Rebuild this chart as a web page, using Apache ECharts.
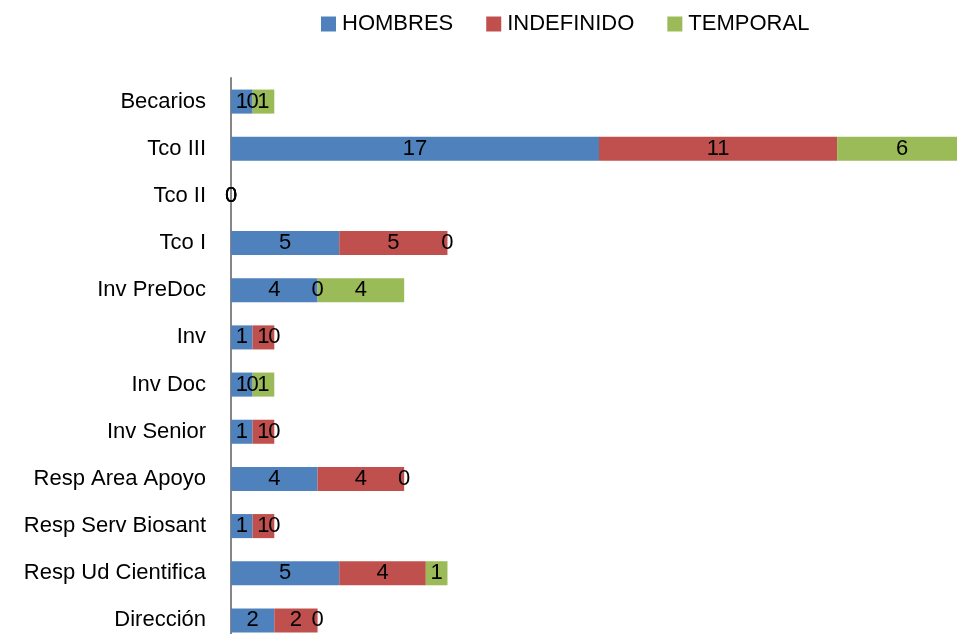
<!DOCTYPE html>
<html>
    <head>
        <meta charset="UTF-8">
        <script src="https://cdn.jsdelivr.net/npm/echarts@6/dist/echarts.min.js"></script>
        <style>
            html, body { margin: 0; padding: 0; background: #fff; }
        </style>
    </head>
    <body>
        <div id="chart" style="width: 957px; height: 634px;"></div>
        <script>
            const categories = ['Dirección', 'Resp Ud Cientifica', 'Resp Serv Biosant', 'Resp Area Apoyo', 'Inv Senior', 'Inv Doc', 'Inv', 'Inv PreDoc', 'Tco I', 'Tco II', 'Tco III', 'Becarios'];
            const hombres    = [2, 5, 1, 4, 1, 1, 1, 4, 5, 0, 17, 1];
            const indefinido = [2, 4, 1, 4, 1, 0, 1, 0, 5, 0, 11, 0];
            const temporal   = [0, 1, 0, 0, 0, 1, 0, 4, 0, 0, 6, 1];

            const font = 'Liberation Sans';
            const label = {
                show: true,
                position: 'inside',
                color: '#000',
                fontFamily: font,
                fontSize: 22
            };
            function serie(name, data, color) {
                return {
                    name: name,
                    type: 'bar',
                    stack: 'total',
                    data: data,
                    barWidth: '51%',
                    itemStyle: { color: color },
                    label: label,
                    emphasis: { disabled: true }
                };
            }

            const chart = echarts.init(document.getElementById('chart'));
            chart.setOption({
                animation: false,
                textStyle: { fontFamily: font },
                legend: {
                    top: 8,
                    left: 316,
                    itemWidth: 15,
                    itemHeight: 15,
                    itemGap: 33,
                    icon: 'rect',
                    textStyle: { fontSize: 22, color: '#000', fontFamily: font, padding: [0, 0, 0, 1] }
                },
                grid: { left: 231, width: 736, top: 78, height: 566, containLabel: false, outerBoundsMode: 'none' },
                xAxis: {
                    type: 'value',
                    min: 0,
                    max: 34,
                    show: false
                },
                yAxis: {
                    type: 'category',
                    data: categories,
                    axisLine: { lineStyle: { color: '#868686', width: 2 } },
                    axisTick: { show: false },
                    axisLabel: { color: '#000', fontSize: 22, fontFamily: font, margin: 25 }
                },
                series: [
                    serie('HOMBRES', hombres, '#4F81BD'),
                    serie('INDEFINIDO', indefinido, '#C0504D'),
                    serie('TEMPORAL', temporal, '#9BBB59')
                ]
            });
        </script>
    </body>
</html>
